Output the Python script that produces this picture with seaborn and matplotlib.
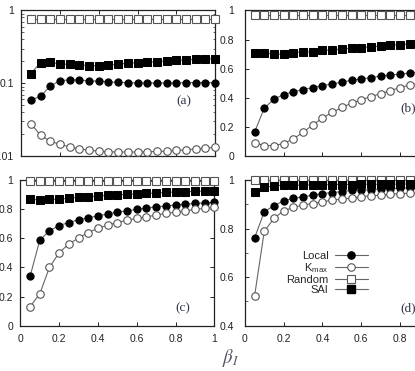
import matplotlib
matplotlib.use("Agg")
import matplotlib.pyplot as plt
from matplotlib.lines import Line2D
import seaborn as sns
import numpy as np

beta = [0.05, 0.10, 0.15, 0.20, 0.25, 0.30, 0.35, 0.40, 0.45, 0.50,
        0.55, 0.60, 0.65, 0.70, 0.75, 0.80, 0.85, 0.90, 0.95, 1.00]

# panel (a), log scale
local_a = [0.059, 0.066, 0.092, 0.108, 0.112, 0.111, 0.108, 0.107, 0.105, 0.103,
           0.102, 0.101, 0.101, 0.101, 0.101, 0.101, 0.102, 0.102, 0.102, 0.102]
kmax_a = [0.0279, 0.0193, 0.0161, 0.0145, 0.0134, 0.0126, 0.0121, 0.0117, 0.0115, 0.0114,
          0.0114, 0.0114, 0.0115, 0.0116, 0.0117, 0.0120, 0.0122, 0.0126, 0.0129, 0.0132]
random_a = [0.75] * 20
sai_a = [0.136, 0.192, 0.194, 0.184, 0.182, 0.180, 0.174, 0.174, 0.176, 0.184,
         0.188, 0.192, 0.194, 0.198, 0.202, 0.206, 0.209, 0.213, 0.216, 0.218]

# panel (b)
local_b = [0.164, 0.330, 0.391, 0.423, 0.441, 0.457, 0.470, 0.484, 0.496, 0.507,
           0.521, 0.530, 0.539, 0.550, 0.557, 0.563, 0.571, 0.577, 0.583, 0.589]
kmax_b = [0.091, 0.073, 0.073, 0.087, 0.119, 0.164, 0.214, 0.262, 0.300, 0.334,
          0.364, 0.387, 0.409, 0.429, 0.450, 0.470, 0.489, 0.50, 0.51, 0.52]
random_b = [0.97] * 20
sai_b = [0.71, 0.71, 0.70, 0.70, 0.71, 0.715, 0.715, 0.725, 0.73, 0.735,
         0.74, 0.745, 0.75, 0.755, 0.76, 0.765, 0.77, 0.775, 0.78, 0.785]

# panel (c)
local_c = [0.338, 0.586, 0.651, 0.687, 0.708, 0.726, 0.740, 0.754, 0.766, 0.779,
           0.789, 0.798, 0.807, 0.816, 0.821, 0.828, 0.834, 0.839, 0.843, 0.846]
kmax_c = [0.131, 0.218, 0.40, 0.501, 0.561, 0.602, 0.639, 0.669, 0.690, 0.708,
          0.724, 0.736, 0.747, 0.759, 0.770, 0.779, 0.789, 0.798, 0.805, 0.812]
random_c = [0.99] * 20
sai_c = [0.869, 0.862, 0.867, 0.867, 0.876, 0.880, 0.885, 0.890, 0.894, 0.899,
         0.901, 0.903, 0.908, 0.910, 0.915, 0.917, 0.920, 0.922, 0.923, 0.925]

# panel (d)
local_d = [0.761, 0.869, 0.894, 0.914, 0.924, 0.931, 0.937, 0.944, 0.948, 0.952,
           0.957, 0.958, 0.960, 0.962, 0.964, 0.966, 0.967, 0.968, 0.969, 0.970]
kmax_d = [0.522, 0.788, 0.842, 0.873, 0.887, 0.897, 0.903, 0.910, 0.917, 0.921,
          0.925, 0.931, 0.935, 0.937, 0.941, 0.944, 0.945, 0.947, 0.948, 0.950]
random_d = [0.998] * 20
sai_d = [0.952, 0.969, 0.976, 0.978, 0.979, 0.979, 0.980, 0.980, 0.981, 0.981,
         0.981, 0.982, 0.982, 0.982, 0.982, 0.983, 0.983, 0.983, 0.983, 0.983]

labels = ["Local", r"K$_{\rm max}$", "Random", "SAI"]
panel_names = ["(a)", "(b)", "(c)", "(d)"]

sns.set_style("ticks")
plt.rcParams['font.family'] = ['Liberation Sans', 'DejaVu Sans']
plt.rcParams['mathtext.fontset'] = 'custom'
plt.rcParams['mathtext.rm'] = 'Liberation Sans'
plt.rcParams['axes.linewidth'] = 0.9
plt.rcParams['axes.edgecolor'] = '#222222'

fig = plt.figure(figsize=(4.15, 3.71), dpi=100)
w, h = 0.4675, 0.393
ax_a = fig.add_axes([0.051, 0.579, w, h])
ax_b = fig.add_axes([0.590, 0.579, w, h])
ax_c = fig.add_axes([0.049, 0.122, w, h])
ax_d = fig.add_axes([0.590, 0.122, w, h])

styles = [
    dict(marker='o', markersize=5.2, markerfacecolor='black', markeredgecolor='black'),
    dict(marker='o', markersize=5.4, markerfacecolor='white', markeredgecolor='#555555', markeredgewidth=0.8),
    dict(marker='s', markersize=5.4, markerfacecolor='white', markeredgecolor='#555555', markeredgewidth=0.8),
    dict(marker='s', markersize=5.6, markerfacecolor='black', markeredgecolor='black'),
]

panels = [
    (ax_a, [local_a, kmax_a, random_a, sai_a]),
    (ax_b, [local_b, kmax_b, random_b, sai_b]),
    (ax_c, [local_c, kmax_c, random_c, sai_c]),
    (ax_d, [local_d, kmax_d, random_d, sai_d]),
]

for ax, series in panels:
    for vals, st in zip(series, styles):
        sns.lineplot(x=beta, y=vals, ax=ax, color='#666666', linewidth=0.8,
                     clip_on=False, zorder=3, **st)
    ax.set_xlim(0, 1)
    ax.tick_params(direction='in', length=3, width=0.7, top=True, right=True,
                   labelsize=7.5, colors='#222222')
    ax.tick_params(axis='x', pad=6)
    ax.tick_params(which='minor', direction='in', length=1.8, width=0.5, top=True, right=True)
    ax.set_xticks([0, 0.2, 0.4, 0.6, 0.8, 1])
    ax.set_xticklabels(['0', '0.2', '0.4', '0.6', '0.8', '1'])

# left column labels sit a little closer to the spine than the right column
for ax in (ax_a, ax_c):
    ax.tick_params(axis='y', pad=5)
for ax in (ax_b, ax_d):
    ax.tick_params(axis='y', pad=7.5)

ax_a.set_yscale('log')
ax_a.set_ylim(0.01, 1)
ax_a.set_yticks([0.01, 0.1, 1])
ax_a.set_yticklabels(['0.01', '0.1', '1'])
ax_a.tick_params(labelbottom=False)

for ax in (ax_b, ax_c):
    ax.set_ylim(0, 1)
    ax.set_yticks([0, 0.2, 0.4, 0.6, 0.8, 1])
    ax.set_yticklabels(['0', '0.2', '0.4', '0.6', '0.8', '1'])
ax_b.tick_params(labelbottom=False)

ax_d.set_ylim(0.4, 1)
ax_d.set_yticks([0.4, 0.6, 0.8, 1])
ax_d.set_yticklabels(['0.4', '0.6', '0.8', '1'])
ax_d.set_yticks([0.5, 0.7, 0.9], minor=True)

label_pos = [(0.84, 0.38), (0.84, 0.33), (0.84, 0.12), (0.84, 0.12)]
for ax, name, (lx, ly) in zip([ax_a, ax_b, ax_c, ax_d], panel_names, label_pos):
    ax.text(lx, ly, name, transform=ax.transAxes, family=['Liberation Serif', 'DejaVu Serif'],
            fontsize=9.5, color='#2f3548', ha='center', va='center')

handles = [Line2D([], [], color='#666666', linewidth=0.8, **st) for st in styles]
ax_d.legend(handles, labels, loc='upper right', bbox_to_anchor=(0.675, 0.565),
            frameon=False, markerfirst=False, fontsize=8, handlelength=3.0,
            handletextpad=0.55, labelspacing=0.0, borderpad=0.2)

fig.text(0.555, 0.035, r"$\beta_I$", fontsize=13.5, color='#555566',
         ha='center', va='center', math_fontfamily='stix')

fig.savefig("out.png", dpi=100)
